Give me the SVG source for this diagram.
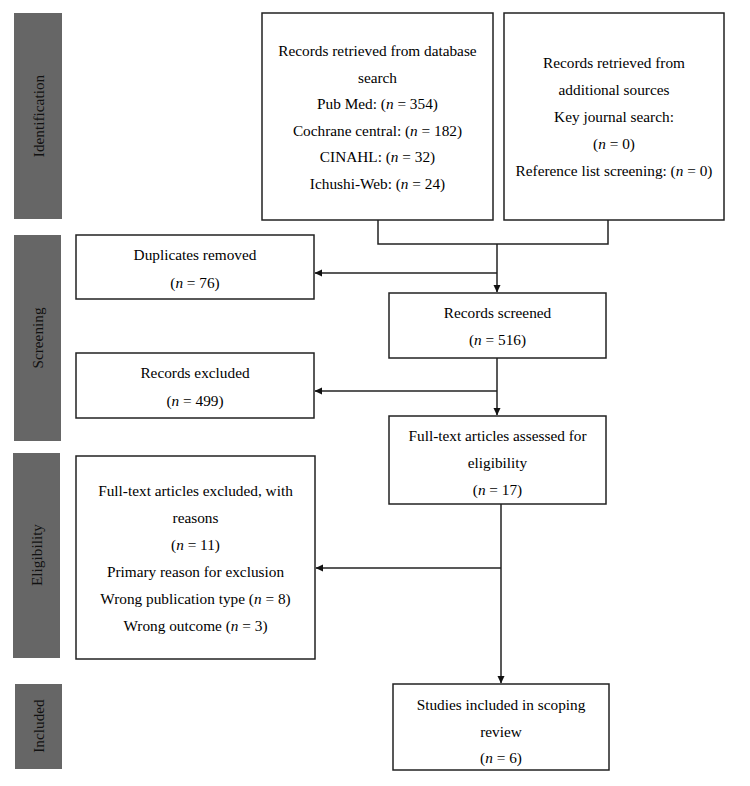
<svg xmlns="http://www.w3.org/2000/svg" width="750" height="786" viewBox="0 0 750 786">
<style>
.bar{fill:#666666;}
.lbl{font-family:"Liberation Serif","Times New Roman",serif;font-size:15.3px;fill:#111;text-anchor:middle;}
.box{fill:#ffffff;stroke:#222;stroke-width:1.5;}
.t{font-family:"Liberation Serif","Times New Roman",serif;font-size:15.3px;fill:#000;text-anchor:middle;}
.i{font-style:italic;}
.ln{fill:none;stroke:#222;stroke-width:1.5;}
</style>
<defs>
<marker id="ah" markerWidth="8" markerHeight="8" refX="7" refY="4" orient="auto" markerUnits="userSpaceOnUse">
<path d="M0,0.5 L7.5,4 L0,7.5 Z" fill="#111"/>
</marker>
</defs>
<rect width="750" height="786" fill="#ffffff"/>

<g id="stage-identification">
<rect class="bar" x="14" y="13" width="48" height="206"/>
<text class="lbl" transform="translate(44,116) rotate(-90)">Identification</text>
</g>
<g id="stage-screening">
<rect class="bar" x="14" y="235" width="47" height="206"/>
<text class="lbl" transform="translate(43,338) rotate(-90)">Screening</text>
</g>
<g id="stage-eligibility">
<rect class="bar" x="13" y="453" width="47" height="205"/>
<text class="lbl" transform="translate(42,555) rotate(-90)">Eligibility</text>
</g>
<g id="stage-included">
<rect class="bar" x="15" y="684" width="47" height="85"/>
<text class="lbl" transform="translate(44,726) rotate(-90)">Included</text>
</g>

<g id="connectors">
<polyline class="ln" points="378,220 378,244 608,244 608,220"/>
<line class="ln" x1="497" y1="244" x2="497" y2="292" marker-end="url(#ah)"/>
<line class="ln" x1="497" y1="273" x2="315" y2="273" marker-end="url(#ah)"/>
<line class="ln" x1="497" y1="358" x2="497" y2="415" marker-end="url(#ah)"/>
<line class="ln" x1="497" y1="391" x2="315" y2="391" marker-end="url(#ah)"/>
<line class="ln" x1="501" y1="504" x2="501" y2="683" marker-end="url(#ah)"/>
<line class="ln" x1="501" y1="568" x2="316" y2="568" marker-end="url(#ah)"/>
</g>

<g id="db-search">
<rect class="box" x="262" y="13" width="231" height="207"/>
<text class="t" x="377.5" y="56">Records retrieved from database</text>
<text class="t" x="377.5" y="82.6">search</text>
<text class="t" x="377.5" y="109.2">Pub Med: (<tspan class="i">n</tspan> = 354)</text>
<text class="t" x="377.5" y="135.8">Cochrane central: (<tspan class="i">n</tspan> = 182)</text>
<text class="t" x="377.5" y="162.4">CINAHL: (<tspan class="i">n</tspan> = 32)</text>
<text class="t" x="377.5" y="189">Ichushi-Web: (<tspan class="i">n</tspan> = 24)</text>
</g>

<g id="additional-sources">
<rect class="box" x="504" y="13" width="220" height="207"/>
<text class="t" x="614" y="68">Records retrieved from</text>
<text class="t" x="614" y="95">additional sources</text>
<text class="t" x="614" y="121.5">Key journal search:</text>
<text class="t" x="614" y="149">(<tspan class="i">n</tspan> = 0)</text>
<text class="t" x="614" y="176">Reference list screening: (<tspan class="i">n</tspan> = 0)</text>
</g>

<g id="duplicates-removed">
<rect class="box" x="76" y="235" width="238" height="64"/>
<text class="t" x="195" y="260">Duplicates removed</text>
<text class="t" x="195" y="287.5">(<tspan class="i">n</tspan> = 76)</text>
</g>

<g id="records-screened">
<rect class="box" x="389" y="293" width="217" height="65"/>
<text class="t" x="497.5" y="318">Records screened</text>
<text class="t" x="497.5" y="345">(<tspan class="i">n</tspan> = 516)</text>
</g>

<g id="records-excluded">
<rect class="box" x="76" y="353" width="238" height="65"/>
<text class="t" x="195" y="378">Records excluded</text>
<text class="t" x="195" y="406">(<tspan class="i">n</tspan> = 499)</text>
</g>

<g id="fulltext-assessed">
<rect class="box" x="389" y="416" width="217" height="88"/>
<text class="t" x="497.5" y="441">Full-text articles assessed for</text>
<text class="t" x="497.5" y="468">eligibility</text>
<text class="t" x="497.5" y="495">(<tspan class="i">n</tspan> = 17)</text>
</g>

<g id="fulltext-excluded">
<rect class="box" x="76" y="456" width="239" height="203"/>
<text class="t" x="195.5" y="496">Full-text articles excluded, with</text>
<text class="t" x="195.5" y="523">reasons</text>
<text class="t" x="195.5" y="550">(<tspan class="i">n</tspan> = 11)</text>
<text class="t" x="195.5" y="577">Primary reason for exclusion</text>
<text class="t" x="195.5" y="604">Wrong publication type (<tspan class="i">n</tspan> = 8)</text>
<text class="t" x="195.5" y="631">Wrong outcome (<tspan class="i">n</tspan> = 3)</text>
</g>

<g id="studies-included">
<rect class="box" x="393" y="684" width="216" height="86"/>
<text class="t" x="501" y="710">Studies included in scoping</text>
<text class="t" x="501" y="737">review</text>
<text class="t" x="501" y="763">(<tspan class="i">n</tspan> = 6)</text>
</g>
</svg>
